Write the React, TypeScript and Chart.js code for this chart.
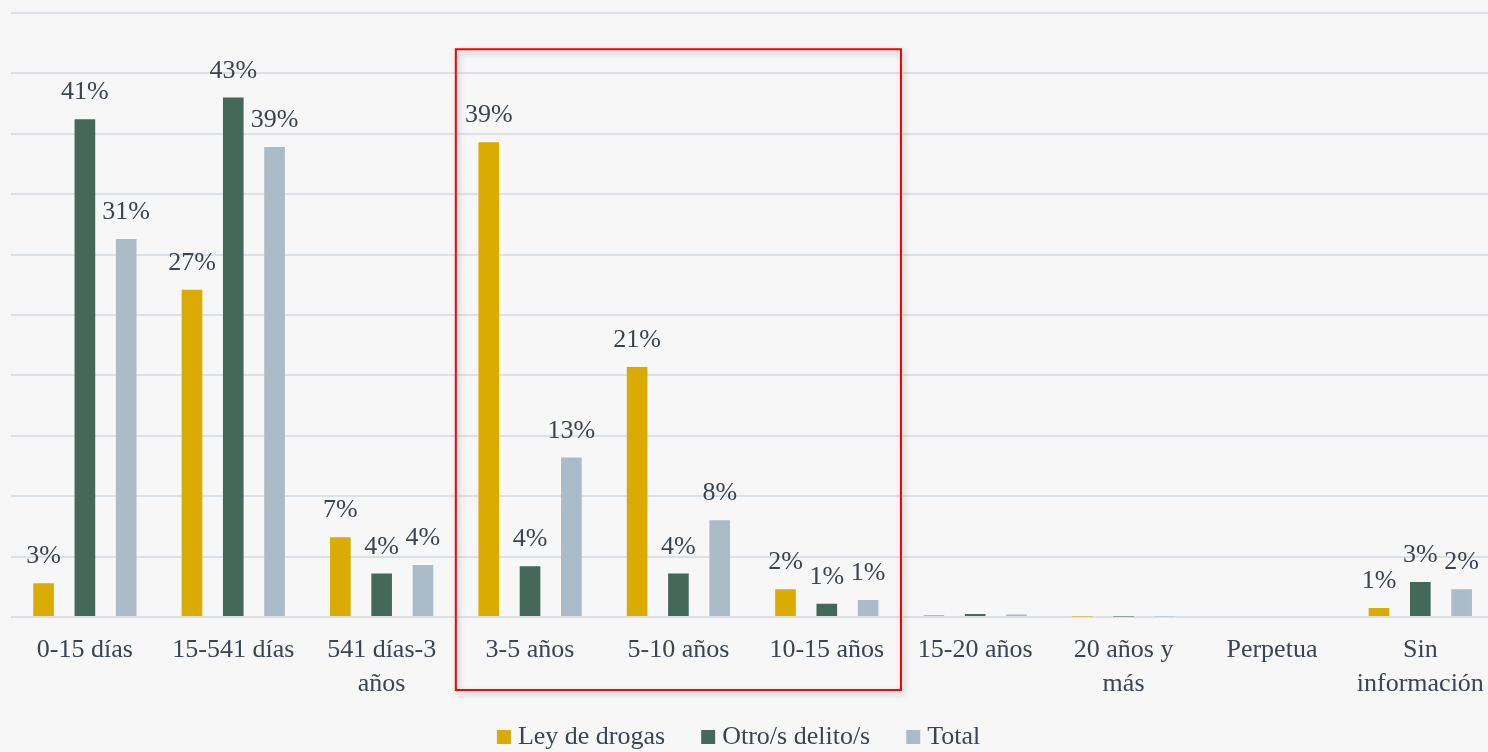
import React, { useEffect, useRef } from "react";
import { Chart, registerables } from "chart.js";

Chart.register(...registerables);

const categories: (string | string[])[] = [
  "0-15 días",
  "15-541 días",
  ["541 días-3", "años"],
  "3-5 años",
  "5-10 años",
  "10-15 años",
  "15-20 años",
  ["20 años y", "más"],
  "Perpetua",
  ["Sin", "información"],
];

const leyDeDrogas = [2.8, 27.1, 6.6, 39.3, 20.7, 2.3, 0.15, 0.05, 0, 0.75];
const otrosDelitos = [41.2, 43.0, 3.6, 4.2, 3.6, 1.1, 0.25, 0.05, 0, 2.9];
const total = [31.3, 38.9, 4.3, 13.2, 8.0, 1.4, 0.2, 0.05, 0, 2.3];

const seriesNames = ["Ley de drogas", "Otro/s delito/s", "Total"];
const seriesColors = ["#DAAB00", "#44695B", "#ACBBC8"];

const highlightFrom = 3;
const highlightTo = 5;
const highlightTopValue = 47;

const TEXT = "#3B4452";
const FONT = "'Liberation Serif', 'Times New Roman', serif";

const valueLabels = {
  id: "valueLabels",
  afterDatasetsDraw(chart: any) {
    const ctx = chart.ctx;
    ctx.save();
    ctx.font = `26px ${FONT}`;
    ctx.fillStyle = TEXT;
    ctx.textAlign = "center";
    ctx.textBaseline = "alphabetic";
    chart.data.datasets.forEach((ds: any, i: number) => {
      const meta = chart.getDatasetMeta(i);
      meta.data.forEach((bar: any, j: number) => {
        const v = ds.data[j];
        if (v < 0.5) return;
        ctx.fillText(Math.round(v) + "%", bar.x, bar.y - 20);
      });
    });
    ctx.restore();
  },
};

const customLegend = {
  id: "customLegend",
  afterDraw(chart: any) {
    const ctx = chart.ctx;
    ctx.save();
    ctx.font = `26px ${FONT}`;
    const box = 14;
    const gapText = 7;
    const gapItem = 36;
    const widths = chart.data.datasets.map(
      (ds: any) => box + gapText + ctx.measureText(ds.label).width
    );
    const totalW =
      widths.reduce((a: number, b: number) => a + b, 0) + gapItem * (widths.length - 1);
    const cx = (chart.chartArea.left + chart.chartArea.right) / 2 - 14;
    let x = cx - totalW / 2;
    const baseY = chart.chartArea.bottom + 127;
    chart.data.datasets.forEach((ds: any, i: number) => {
      ctx.fillStyle = ds.backgroundColor;
      ctx.fillRect(x, baseY - 14, box, box);
      ctx.fillStyle = TEXT;
      ctx.textAlign = "left";
      ctx.textBaseline = "alphabetic";
      ctx.fillText(ds.label, x + box + gapText, baseY);
      x += widths[i] + gapItem;
    });
    ctx.restore();
  },
};

const highlightBox = {
  id: "highlightBox",
  afterDraw(chart: any) {
    const xs = chart.scales.x;
    const ys = chart.scales.y;
    const half = (xs.getPixelForValue(1) - xs.getPixelForValue(0)) / 2;
    const left = xs.getPixelForValue(highlightFrom) - half;
    const right = xs.getPixelForValue(highlightTo) + half;
    const top = ys.getPixelForValue(highlightTopValue);
    const bottom = chart.chartArea.bottom + 73;
    const ctx = chart.ctx;
    ctx.save();
    ctx.shadowColor = "rgba(0,0,0,0.28)";
    ctx.shadowBlur = 6;
    ctx.shadowOffsetX = 2;
    ctx.shadowOffsetY = 3;
    ctx.strokeStyle = "#FF0000";
    ctx.lineWidth = 2;
    ctx.strokeRect(left, top, right - left, bottom - top);
    ctx.restore();
  },
};

const background = {
  id: "bg",
  beforeDraw(chart: any) {
    const ctx = chart.ctx;
    ctx.save();
    ctx.fillStyle = "#F7F7F7";
    ctx.fillRect(0, 0, chart.width, chart.height);
    ctx.restore();
  },
};

export default function App() {
  const ref = useRef<HTMLCanvasElement>(null);

  useEffect(() => {
    if (!ref.current) return;
    const data = [leyDeDrogas, otrosDelitos, total];
    const chart = new Chart(ref.current, {
      type: "bar",
      data: {
        labels: categories,
        datasets: data.map((d, i) => ({
          label: seriesNames[i],
          data: d,
          backgroundColor: seriesColors[i],
          borderWidth: 0,
          categoryPercentage: 0.835,
          barPercentage: 0.5,
        })),
      },
      options: {
        animation: false,
        responsive: false,
        devicePixelRatio: 1,
        layout: { padding: { left: 10.7, right: 3, top: 13, bottom: 56 } },
        plugins: {
          tooltip: { enabled: false },
          legend: { display: false },
        },
        scales: {
          x: {
            grid: { display: false, drawTicks: false },
            border: { display: false },
            ticks: {
              color: TEXT,
              font: { family: FONT, size: 26, lineHeight: 1.31 },
              padding: 16,
              maxRotation: 0,
              minRotation: 0,
              autoSkip: false,
            },
            afterFit: (scale: any) => {
              scale.height = 79;
            },
          },
          y: {
            min: 0,
            max: 50,
            ticks: { display: false, stepSize: 5 },
            grid: { color: "#DCE1E7", lineWidth: 2, drawTicks: false },
            border: { display: false },
          },
        },
      },
      plugins: [background, valueLabels, highlightBox, customLegend],
    } as any);
    return () => chart.destroy();
  }, []);

  return (
    <div
      style={{
        position: "fixed",
        left: 0,
        top: 0,
        width: 1488,
        height: 752,
        overflow: "hidden",
        background: "#F7F7F7",
      }}
    >
      <canvas ref={ref} width={1500} height={752} style={{ display: "block" }} />
    </div>
  );
}
